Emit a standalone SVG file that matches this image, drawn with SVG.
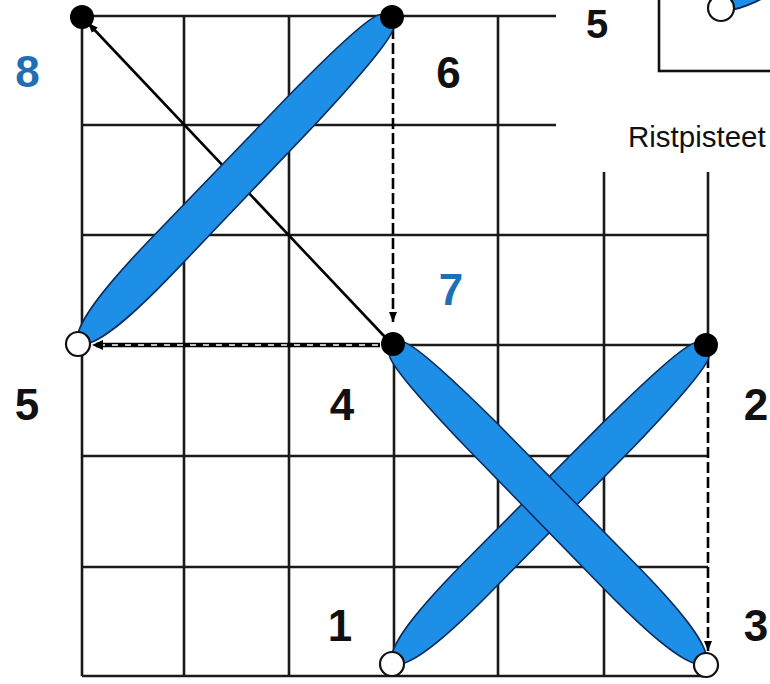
<svg xmlns="http://www.w3.org/2000/svg" width="770" height="684" viewBox="0 0 770 684">
  <style>
    .grid { stroke: #1a1a1a; stroke-width: 2.6; fill: none; }
    .stitch { fill: #1e8fe6; stroke: #0c2c5c; stroke-width: 1.6; }
    .dot { fill: #000; }
    .hole { fill: #fff; stroke: #111; stroke-width: 2.2; }
    .num { font-family: "Liberation Sans", Arial, sans-serif; font-weight: bold; font-size: 44px; text-anchor: middle; fill: #111; }
    .blue { fill: #1f6fb5; }
    .cap { font-family: "Liberation Sans", Arial, sans-serif; font-size: 29.5px; fill: #111; }
    .arrow { stroke: #000; stroke-width: 2.6; fill: none; }
    .dash { stroke: #000; stroke-width: 2.6; fill: none; stroke-dasharray: 11 4; }
  </style>
  <defs>
    <marker id="ah" viewBox="0 0 10 8" refX="10" refY="4" markerWidth="10" markerHeight="8" markerUnits="userSpaceOnUse" orient="auto">
      <path d="M0,0 L10,4 L0,8 Z" fill="#000"/>
    </marker>
    <path id="st" d="M0,0 C6,-13 40,-20 120,-20 L320,-19 C395,-18 434,-15 442,-9 C450,-3 450,5 442,10 C434,16 395,19 320,20 L120,20 C40,20 6,13 0,0 Z"/>
  </defs>

  <rect width="770" height="684" fill="#fff"/>

  <g id="grid">
    <line class="grid" x1="82" y1="16" x2="82" y2="676"/>
    <line class="grid" x1="184" y1="16" x2="184" y2="676"/>
    <line class="grid" x1="289" y1="16" x2="289" y2="676"/>
    <line class="grid" x1="394" y1="345" x2="394" y2="676"/>
    <line class="grid" x1="498" y1="16" x2="498" y2="676"/>
    <line class="grid" x1="604" y1="16" x2="604" y2="676"/>
    <line class="grid" x1="708" y1="16" x2="708" y2="345"/>
    <line class="grid" x1="82" y1="16" x2="708" y2="16"/>
    <line class="grid" x1="82" y1="125" x2="708" y2="125"/>
    <line class="grid" x1="82" y1="235" x2="708" y2="235"/>
    <line class="grid" x1="393" y1="345" x2="708" y2="345"/>
    <line class="grid" x1="82" y1="456" x2="708" y2="456"/>
    <line class="grid" x1="82" y1="567" x2="708" y2="567"/>
    <line class="grid" x1="82" y1="676" x2="708" y2="676"/>
  </g>

  <g id="connectors">
    <line class="arrow" x1="385" y1="337" x2="88" y2="23" marker-end="url(#ah)"/>
    <line class="dash" x1="393" y1="28" x2="393" y2="322" marker-end="url(#ah)"/>
    <line class="dash" x1="708" y1="357" x2="708" y2="651" marker-end="url(#ah)"/>
    <line stroke="#000" stroke-width="4.5" x1="380" y1="345" x2="96" y2="345"/>
    <line stroke="#fff" stroke-width="1.4" stroke-dasharray="6 7" x1="378" y1="345" x2="100" y2="345"/>
    <path d="M92,345 L103,340 L103,350 Z" fill="#000"/>
  </g>

  <g id="stitch-1-2">
    <use href="#st" class="stitch" transform="translate(392,664) rotate(-45.45)"/>
  </g>
  <g id="stitch-3-4">
    <use href="#st" class="stitch" transform="translate(706,664) rotate(-134.55)"/>
  </g>
  <g id="stitch-5-6">
    <use href="#st" class="stitch" transform="translate(78,344) rotate(-46.35) scale(1.01,1)"/>
  </g>

  <g id="point-8"><circle class="dot" cx="82" cy="17" r="12"/></g>
  <g id="point-6"><circle class="dot" cx="392" cy="17" r="12"/></g>
  <g id="point-4"><circle class="dot" cx="393" cy="344" r="12"/></g>
  <g id="point-2"><circle class="dot" cx="706" cy="345" r="12"/></g>
  <g id="point-5"><circle class="hole" cx="78" cy="344" r="12"/></g>
  <g id="point-1"><circle class="hole" cx="392" cy="664" r="12"/></g>
  <g id="point-3"><circle class="hole" cx="706" cy="665" r="12"/></g>

  <g id="labels">
    <text class="num blue" x="27.5" y="87">8</text>
    <text class="num" x="448.5" y="88">6</text>
    <text class="num blue" x="451" y="305">7</text>
    <text class="num" x="27" y="420">5</text>
    <text class="num" x="342" y="420">4</text>
    <text class="num" x="756" y="420">2</text>
    <text class="num" x="340" y="641">1</text>
    <text class="num" x="756" y="641">3</text>
  </g>

  <g id="inset">
    <rect x="556" y="0" width="214" height="172" fill="#fff"/>
    <rect x="659" y="-60" width="160" height="131" fill="#fff" stroke="#111" stroke-width="2.6"/>
    <use href="#st" class="stitch" transform="translate(721,8) rotate(-35)"/>
    <circle class="hole" cx="721" cy="8" r="13"/>
    <text class="num" x="597" y="38" style="font-size:40px">5</text>
    <text class="cap" x="628" y="147">Ristpisteet</text>
  </g>
</svg>
